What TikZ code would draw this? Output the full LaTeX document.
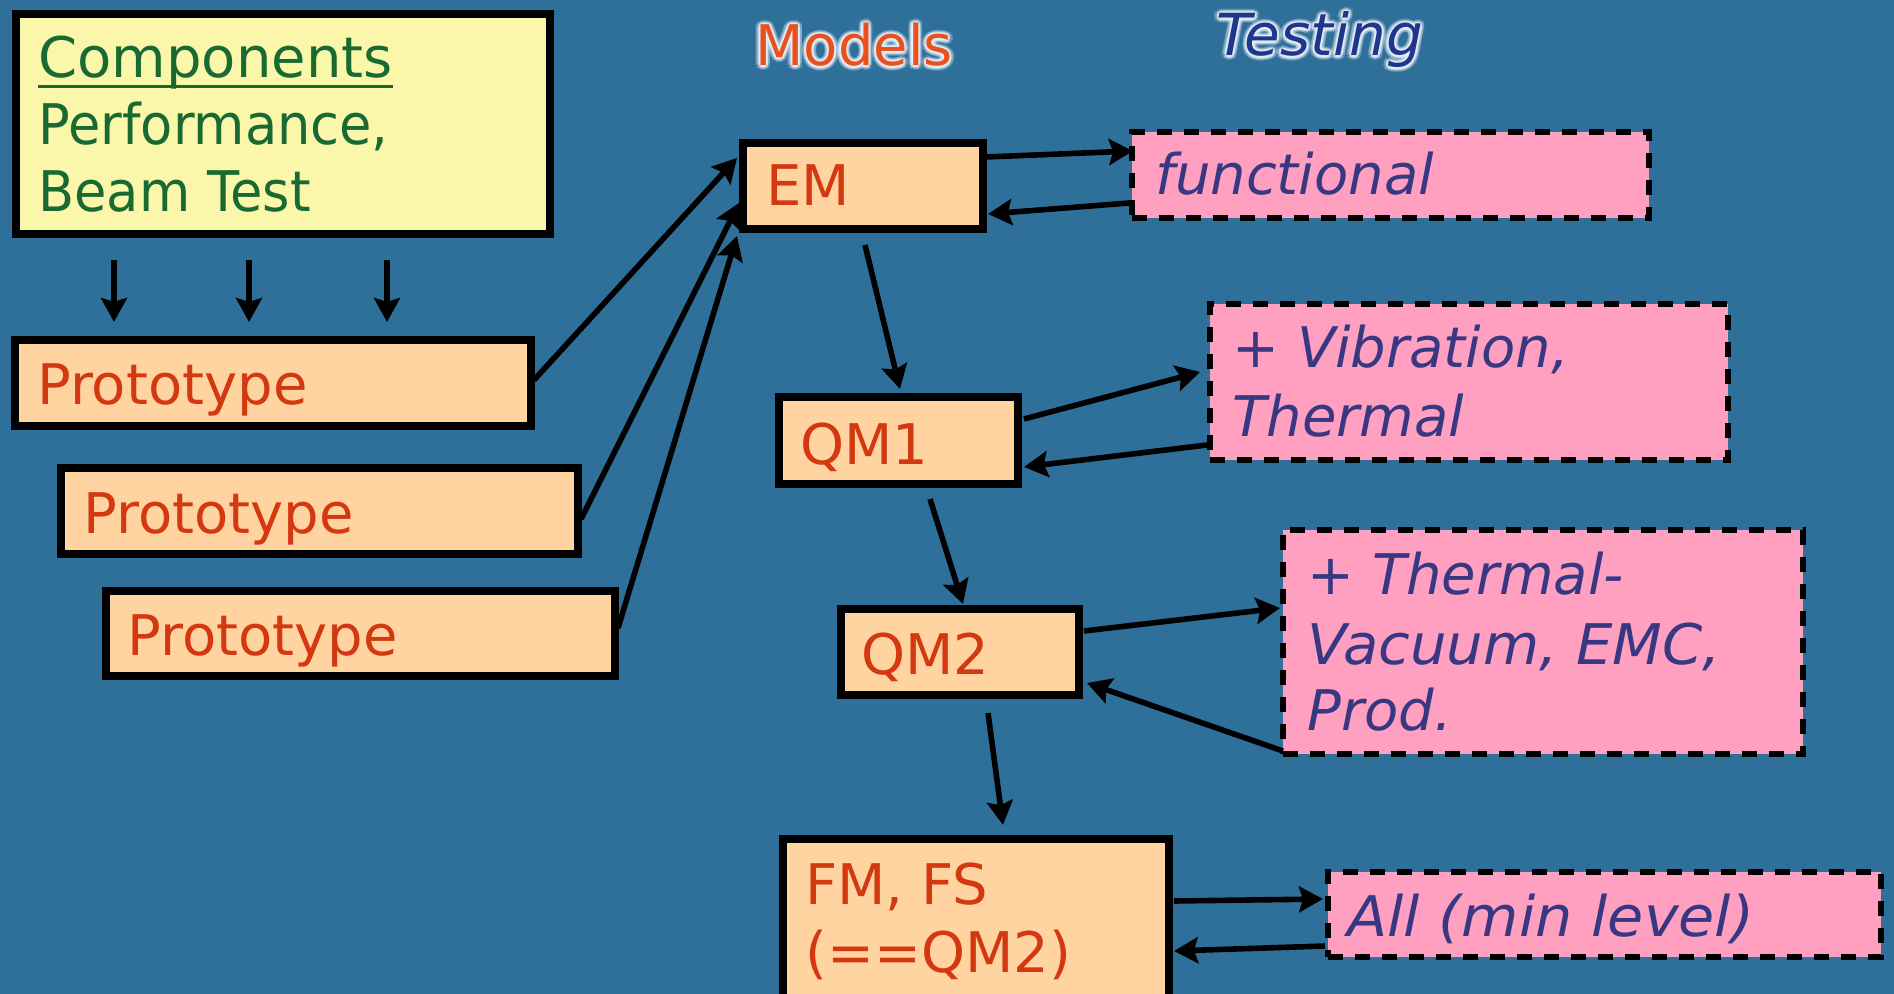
\documentclass[tikz,border=0pt]{standalone}
\usepackage{graphicx}
\usepackage{fontspec}
\setmainfont{DejaVu Sans}
\usetikzlibrary{fit,arrows.meta}

\definecolor{slide}{RGB}{47,112,155}
\definecolor{compfill}{RGB}{250,247,170}
\definecolor{modelfill}{RGB}{255,212,160}
\definecolor{testfill}{RGB}{255,160,192}
\definecolor{modeltext}{RGB}{212,56,16}
\definecolor{comptext}{RGB}{25,105,50}
\definecolor{testtext}{RGB}{55,55,130}
\definecolor{headmodel}{RGB}{232,80,30}
\definecolor{headtest}{RGB}{30,55,140}
\definecolor{halo}{RGB}{232,238,246}

% rectangle node spanning two corners (pixel grid, y pointing down)
\newcommand\mkbox[6]{%
  \coordinate (#1-tl) at (#2,#3);
  \coordinate (#1-br) at (#4,#5);
  \node[#6, fit=(#1-tl)(#1-br)] (#1) {};}

% heading with a soft light halo behind it
\newcommand\haloheading[6]{%
  \foreach \ang in {0,30,...,330} {
    \node[anchor=base west, inner sep=0pt, text=halo, opacity=0.22, font=#5]
      (#1-a\ang) at ([shift={(\ang:4.5)}]#2,#3) {#6};
    \node[anchor=base west, inner sep=0pt, text=halo, opacity=0.45, font=#5]
      (#1-b\ang) at ([shift={(\ang:2.2)}]#2,#3) {#6};
  }
  \node[anchor=base west, inner sep=0pt, text=#4, font=#5] (#1) at (#2,#3) {#6};}

% underline drawn at a fixed depth below the baseline
\newcommand\ulword[1]{\setbox0\hbox{#1}\rlap{\rule[-5pt]{\wd0}{1.5pt}}#1}
% horizontally condensed or widened line
\newcommand\hscale[2]{\scalebox{#1}[1]{#2}}

\tikzset{
  basebox/.style={inner sep=0pt, outer sep=0pt, line join=miter},
  compbox/.style={basebox, draw=black, line width=4.2pt, fill=compfill},
  modelbox/.style={basebox, draw=black, line width=3.6pt, fill=modelfill},
  testbox/.style={basebox, draw=black, line width=3.2pt, fill=testfill,
    dash pattern=on 7.5pt off 6pt},
  txt/.style={anchor=base west, inner sep=0pt, font=\fontsize{28}{34}\selectfont},
  ctext/.style={txt, text=comptext},
  mtext/.style={txt, text=modeltext},
  ttext/.style={txt, text=testtext, font=\fontsize{28}{34}\selectfont\itshape},
  conn/.style={draw=black, line width=2.8pt,
    -{Stealth[length=12pt, width=13pt, inset=2pt]}},
}

\begin{document}
\begin{tikzpicture}[x=0.5pt, y=-0.5pt]
\clip (0,0) rectangle (1894,994);
\fill[slide] (0,0) rectangle (1894,994);

% headings
\haloheading{hmodels}{755}{66}{headmodel}{\fontsize{28}{34}\selectfont}{Models}
\haloheading{htesting}{1216}{56}{headtest}{\fontsize{29}{34}\selectfont\itshape}{Testing}

% component box
\mkbox{comp}{16}{14}{550}{234}{compbox}
\node[ctext] (comp-l1) at (38,78) {\ulword{Components}};
\node[ctext] (comp-l2) at (38,145) {\hscale{0.94}{Performance,}};
\node[ctext] (comp-l3) at (38,212) {\hscale{0.94}{Beam Test}};

% prototypes
\mkbox{p1}{15}{340}{531}{426}{modelbox}
\mkbox{p2}{61}{468}{578}{554}{modelbox}
\mkbox{p3}{106}{591}{615}{676}{modelbox}
\node[mtext] (p1-l) at (37,405) {Prototype};
\node[mtext] (p2-l) at (83,533) {Prototype};
\node[mtext] (p3-l) at (127,655) {Prototype};

% model chain
\mkbox{em}{743}{143}{983}{229}{modelbox}
\mkbox{qm1}{779}{397}{1018}{484}{modelbox}
\mkbox{qm2}{841}{609}{1079}{695}{modelbox}
\mkbox{fm}{783}{839}{1169}{1030}{modelbox}
\node[mtext] (em-l) at (766,206) {EM};
\node[mtext] (qm1-l) at (800,464) {QM1};
\node[mtext] (qm2-l) at (861,674) {QM2};
\node[mtext] (fm-l1) at (805,904) {FM, FS};
\node[mtext] (fm-l2) at (805,972) {(==QM2)};

% tests
\mkbox{func}{1132}{132}{1649}{218}{testbox}
\mkbox{vib}{1210}{304}{1728}{460}{testbox}
\mkbox{therm}{1283}{530}{1803}{754}{testbox}
\mkbox{all}{1328}{872}{1881}{957}{testbox}
\node[ttext] (func-l) at (1155,195) {functional};
\node[ttext] (vib-l1) at (1232,368) {+ Vibration,};
\node[ttext] (vib-l2) at (1232,437) {Thermal};
\node[ttext] (therm-l1) at (1307,594) {+ Thermal-};
\node[ttext] (therm-l2) at (1307,664) {\hscale{1.03}{Vacuum, EMC,}};
\node[ttext] (therm-l3) at (1307,730) {Prod.};
\node[ttext] (all-l) at (1347,936) {\hscale{1.05}{All (min level)}};

% components feed the prototype
\draw[conn] ([shift={(98,246)}]comp.north west) -- ([shift={(99,-18)}]p1.north west);
\draw[conn] ([shift={(233,246)}]comp.north west) -- ([shift={(234,-18)}]p1.north west);
\draw[conn] ([shift={(371,246)}]comp.north west) -- ([shift={(372,-18)}]p1.north west);

% prototypes feed the engineering model
\draw[conn] ([shift={(519,40)}]p1.north west) -- ([shift={(-6,15)}]em.north west);
\draw[conn] ([shift={(520,51)}]p2.north west) -- ([shift={(-4,60)}]em.north west);
\draw[conn] ([shift={(512,37)}]p3.north west) -- ([shift={(-6,93)}]em.north west);

% model sequence
\draw[conn] ([shift={(122,102)}]em.north west) -- ([shift={(121,-8)}]qm1.north west);
\draw[conn] ([shift={(151,102)}]qm1.north west) -- ([shift={(122,-5)}]qm2.north west);
\draw[conn] ([shift={(147,104)}]qm2.north west) -- ([shift={(220,-14)}]fm.north west);

% test loops
\draw[conn] ([shift={(243,14)}]em.north west) -- ([shift={(1,19)}]func.north west);
\draw[conn] ([shift={(-3,71)}]func.north west) -- ([shift={(245,71)}]em.north west);
\draw[conn] ([shift={(245,22)}]qm1.north west) -- ([shift={(-10,68)}]vib.north west);
\draw[conn] ([shift={(-3,141)}]vib.north west) -- ([shift={(245,70)}]qm1.north west);
\draw[conn] ([shift={(243,22)}]qm2.north west) -- ([shift={(-3,78)}]therm.north west);
\draw[conn] ([shift={(0,221)}]therm.north west) -- ([shift={(246,74)}]qm2.north west);
\draw[conn] ([shift={(391,62)}]fm.north west) -- ([shift={(-5,27)}]all.north west);
\draw[conn] ([shift={(-3,74)}]all.north west) -- ([shift={(391,112)}]fm.north west);
\end{tikzpicture}
\end{document}
